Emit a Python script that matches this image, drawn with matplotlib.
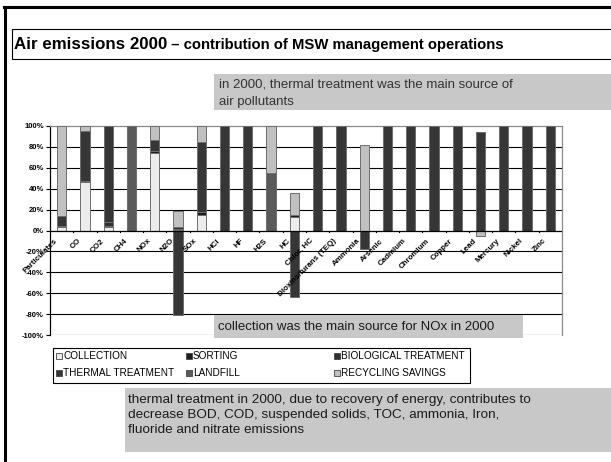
import matplotlib
matplotlib.use("Agg")
import matplotlib.pyplot as plt
from matplotlib.patches import Rectangle
from matplotlib.lines import Line2D
import numpy as np

plt.rcParams['font.family'] = ['Liberation Sans', 'DejaVu Sans']

# ---- data (% contribution of each operation) ----
categories = ["Particulates", "CO", "CO2", "CH4", "NOx", "N2O", "SOx", "HCl", "HF",
              "H2S", "HC", "Chlor. HC", "Dioxins/furans (TEQ)", "Ammonia", "Arsenic",
              "Cadmium", "Chromium", "Copper", "Lead", "Mercury", "Nickel", "Zinc"]

collection = [3, 46, 3.5, 0, 74, 0.5, 15, 0, 0, 0, 13, 0, 0, 0, 0, 0, 0, 0, 0, 0, 0, 0]
sorting    = [1, 1, 1, 0, 2, 1, 2.5, 0, 0, 0, 2, 0, 0, 0, 0, 0, 0, 0, 0, 0, 0, 0]
biological = [0, 0, 4, 0, 0, 2, 0, 0, 0, 0, 0, 0, 0, 0, 0, 0, 0, 0, 0, 0, 0, 0]
thermal    = [10, 48, 91.5, 0, 11, -81, 67.5, 100, 100, 0, -64, 100, 100, -18,
              100, 100, 100, 100, 94, 100, 100, 100]
landfill   = [0, 0, 0, 100, 0, 0, 0, 0, 0, 55, 0, 0, 0, 0, 0, 0, 0, 0, 0, 0, 0, 0]
recycling  = [86, 5, 0, 0, 13, 15.5, 15, 0, 0, 45, 21, 0, 0, 82, 0, 0, 0, 0, -5.5, 0, 0, 0]

series_names = ["COLLECTION", "SORTING", "BIOLOGICAL TREATMENT",
                "THERMAL TREATMENT", "LANDFILL", "RECYCLING SAVINGS"]
series_values = [collection, sorting, biological, thermal, landfill, recycling]
series_colors = ["#ececec", "#1e1e1e", "#303030", "#363636", "#5a5a5a", "#c0c0c0"]

yticks = [-100, -80, -60, -40, -20, 0, 20, 40, 60, 80, 100]

W, H = 611, 462
fig = plt.figure(figsize=(W / 100, H / 100), dpi=100)
fig.patch.set_facecolor("white")


def fx(px):
    return px / W


def fy(py):
    return 1 - py / H


# slide frame
fig.add_artist(Line2D([fx(4.5), fx(4.5)], [fy(7), fy(470)], color="black", lw=2.2))
fig.add_artist(Line2D([fx(4), fx(620)], [fy(7), fy(7)], color="black", lw=2.2))

# title bar
fig.add_artist(Rectangle((fx(12), fy(59)), fx(620) - fx(12), fy(29) - fy(59),
                         facecolor="white", edgecolor="black", lw=0.8))
t1 = fig.text(fx(14), fy(44.5), "Air emissions 2000", fontsize=12.2, fontweight="bold",
              va="center", ha="left")
fig.canvas.draw()
bb = t1.get_window_extent()
fig.text(bb.x1 / W, fy(45.5), " \u2013 contribution of MSW management operations",
         fontsize=10.75, fontweight="bold", va="center", ha="left")

# comment boxes
grey = "#c8c8c8"
fig.add_artist(Rectangle((fx(214), fy(110)), fx(620) - fx(214), fy(74) - fy(110),
                         facecolor=grey, edgecolor="none"))
fig.text(fx(219), fy(85), "in 2000, thermal treatment was the main source of",
         fontsize=9.5, color="#333333", va="center", ha="left")
fig.text(fx(219), fy(102), "air pollutants", fontsize=9.5, color="#333333",
         va="center", ha="left")

# chart
ax = fig.add_axes([fx(50), fy(335), fx(562) - fx(50), fy(126) - fy(335)])
ax.set_facecolor("white")
x = np.arange(len(categories))
pos_base = np.zeros(len(categories))
neg_base = np.zeros(len(categories))
for name, vals, col in zip(series_names, series_values, series_colors):
    v = np.array(vals, dtype=float)
    base = np.where(v >= 0, pos_base, neg_base)
    ax.bar(x, v, bottom=base, width=0.4, color=col, edgecolor="#6e6e6e",
           linewidth=0.7, zorder=3, label=name)
    pos_base += np.where(v > 0, v, 0)
    neg_base += np.where(v < 0, v, 0)

ax.set_xlim(-0.5, len(categories) - 0.5)
ax.set_ylim(-100, 100)
ax.set_yticks(yticks)
ax.set_yticklabels([f"{t}%" for t in yticks], fontsize=5.5, fontweight="bold")
ax.tick_params(axis="y", length=3, width=0.8, pad=1.5)
for t in yticks:
    if t not in (0, 100):
        ax.axhline(t, color="black", lw=0.8, zorder=1)
for side in ("top", "right"):
    ax.spines[side].set_color("#8a8a8a")
    ax.spines[side].set_linewidth(0.9)
ax.spines["bottom"].set_visible(False)
ax.spines["left"].set_color("black")
ax.spines["left"].set_linewidth(0.9)
ax.axhline(0, color="black", lw=0.9, zorder=4)
ax.set_xticks([])
for b in np.arange(0.5, len(categories) - 0.5, 1.0):
    ax.plot([b, b], [0, -1.8], color="black", lw=0.8, zorder=4, clip_on=False)
for i, name in enumerate(categories):
    ax.annotate(name, xy=(i, 0), xytext=(-2, -5), textcoords="offset points",
                rotation=45, ha="right", va="top", fontsize=5.7, fontweight="bold",
                zorder=5)

fig.add_artist(Rectangle((fx(214), fy(338)), fx(523) - fx(214), fy(315) - fy(338),
                         facecolor=grey, edgecolor="none", zorder=6))
fig.text(fx(218), fy(326.5), "collection was the main source for NOx in 2000",
         fontsize=9.5, color="#1a1a1a", va="center", ha="left", zorder=7)

# legend
fig.add_artist(Rectangle((fx(53), fy(383)), fx(470) - fx(53), fy(348) - fy(383),
                         facecolor="white", edgecolor="black", lw=0.8))
col_x = [56, 186, 334]
row_y = [356, 373.5]
for k, (name, col) in enumerate(zip(series_names, series_colors)):
    r, c = divmod(k, 3)
    sx, sy = col_x[c], row_y[r]
    fig.add_artist(Rectangle((fx(sx), fy(sy + 2.5)), fx(6) - fx(0), fy(0) - fy(6),
                             facecolor=col, edgecolor="#444444", lw=0.6))
    fig.text(fx(sx + 7), fy(sy), name, fontsize=7.2, va="center", ha="left")

# bottom note
fig.add_artist(Rectangle((fx(125), fy(452)), fx(620) - fx(125), fy(388) - fy(452),
                         facecolor=grey, edgecolor="none"))
notes = ["thermal treatment in 2000, due to recovery of energy, contributes to",
         "decrease BOD, COD, suspended solids, TOC, ammonia, Iron,",
         "fluoride and nitrate emissions"]
for j, line in enumerate(notes):
    fig.text(fx(128), fy(400 + 15 * j), line, fontsize=9.7, color="#1a1a1a",
             va="center", ha="left")

fig.savefig("out.png", dpi=100, facecolor="white")
